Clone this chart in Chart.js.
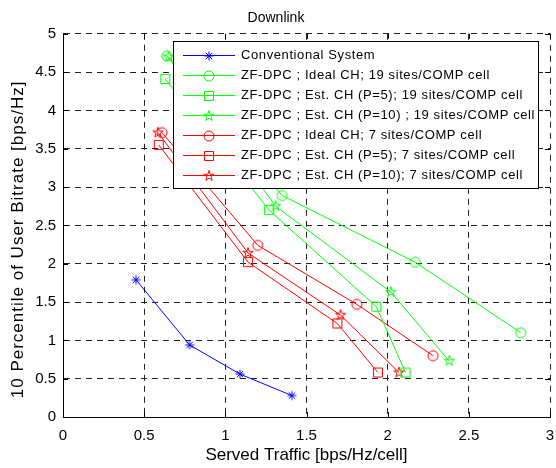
<!DOCTYPE html>
<html>
<head>
<meta charset="utf-8">
<script src="https://cdn.jsdelivr.net/npm/chart.js@4.4.0/dist/chart.umd.min.js"></script>
<style>
  body { margin: 0; background: #fff; }
  canvas { display: block; }
</style>
</head>
<body>
<canvas id="chart" width="556" height="468"></canvas>
<script>
// values
const xTicks = [0, 0.5, 1, 1.5, 2, 2.5, 3];
const yTicks = [0, 0.5, 1, 1.5, 2, 2.5, 3, 3.5, 4, 4.5, 5];

const seriesNames = [
  'Conventional System',
  'ZF-DPC ; Ideal CH; 19 sites/COMP cell',
  'ZF-DPC ; Est. CH (P=5); 19 sites/COMP cell',
  'ZF-DPC ; Est. CH (P=10) ; 19 sites/COMP cell',
  'ZF-DPC ; Ideal CH; 7 sites/COMP cell',
  'ZF-DPC ; Est. CH (P=5); 7 sites/COMP cell',
  'ZF-DPC ; Est. CH (P=10); 7 sites/COMP cell',
];

const convX = [0.45, 0.78, 1.09, 1.41];
const convY = [1.79, 0.94, 0.56, 0.28];

const ideal19X = [0.64, 1.35, 2.17, 2.82];
const ideal19Y = [4.71, 2.89, 2.02, 1.10];

const p5_19X = [0.63, 1.27, 1.93, 2.11];
const p5_19Y = [4.41, 2.70, 1.44, 0.58];

const p10_19X = [0.65, 1.31, 2.02, 2.38];
const p10_19Y = [4.70, 2.75, 1.63, 0.73];

const ideal7X = [0.61, 1.20, 1.81, 2.28];
const ideal7Y = [3.71, 2.24, 1.47, 0.80];

const p5_7X = [0.59, 1.14, 1.69, 1.94];
const p5_7Y = [3.55, 2.02, 1.22, 0.58];

const p10_7X = [0.585, 1.14, 1.71, 2.07];
const p10_7Y = [3.71, 2.14, 1.33, 0.58];

const yTitle = '10 Percentile of User Bitrate [bps/Hz]';

const BLUE = '#0000ff';
const GREEN = '#00ff00';
const RED = '#ff0000';
const FONT = '"Liberation Sans", Arial, sans-serif';

// small canvases used as point markers (matlab style)
function makeMarker(kind, color) {
  const c = document.createElement('canvas');
  c.width = 16;
  c.height = 16;
  const g = c.getContext('2d');
  g.strokeStyle = color;
  g.lineWidth = 1;
  g.beginPath();
  if (kind === 'asterisk') {
    const r = 4.5, d = r * 0.7071;
    g.moveTo(8 - r, 8); g.lineTo(8 + r, 8);
    g.moveTo(8, 8 - r); g.lineTo(8, 8 + r);
    g.moveTo(8 - d, 8 - d); g.lineTo(8 + d, 8 + d);
    g.moveTo(8 - d, 8 + d); g.lineTo(8 + d, 8 - d);
  } else if (kind === 'circle') {
    g.arc(8, 8, 5, 0, Math.PI * 2);
  } else if (kind === 'square') {
    g.rect(3.5, 3.5, 9, 9);
  } else if (kind === 'pentagram') {
    const R = 5.5, r = R * 0.382;
    for (let i = 0; i < 10; i++) {
      const a = -Math.PI / 2 + i * Math.PI / 5;
      const rr = i % 2 === 0 ? R : r;
      const px = 8 + rr * Math.cos(a), py = 8 + rr * Math.sin(a);
      if (i === 0) g.moveTo(px, py); else g.lineTo(px, py);
    }
    g.closePath();
  }
  g.stroke();
  return c;
}

function toPoints(xs, ys) {
  return xs.map((x, i) => ({ x: x, y: ys[i] }));
}

const seriesX = [convX, ideal19X, p5_19X, p10_19X, ideal7X, p5_7X, p10_7X];
const seriesY = [convY, ideal19Y, p5_19Y, p10_19Y, ideal7Y, p5_7Y, p10_7Y];
const seriesColors = [BLUE, GREEN, GREEN, GREEN, RED, RED, RED];
const seriesMarkers = ['asterisk', 'circle', 'square', 'pentagram', 'circle', 'square', 'pentagram'];

const markerImages = seriesMarkers.map((m, i) => makeMarker(m, seriesColors[i]));

const datasets = seriesNames.map((name, i) => ({
  label: name,
  data: toPoints(seriesX[i], seriesY[i]),
  showLine: true,
  borderColor: seriesColors[i],
  backgroundColor: seriesColors[i],
  borderWidth: 1,
  pointStyle: markerImages[i],
  pointRadius: 5,
  tension: 0,
}));

// short inward tick marks on all four sides of the box
const innerTicks = {
  id: 'innerTicks',
  afterDatasetsDraw(chart) {
    const ctx = chart.ctx;
    const a = chart.chartArea;
    const xs = chart.scales.x, ys = chart.scales.y;
    const len = 5;
    ctx.save();
    ctx.strokeStyle = '#000';
    ctx.lineWidth = 1;
    ctx.beginPath();
    xTicks.forEach(v => {
      const px = Math.round(xs.getPixelForValue(v)) + 0.5;
      ctx.moveTo(px, a.bottom); ctx.lineTo(px, a.bottom - len);
      ctx.moveTo(px, a.top); ctx.lineTo(px, a.top + len);
    });
    yTicks.forEach(v => {
      const py = Math.round(ys.getPixelForValue(v)) + 0.5;
      ctx.moveTo(a.left, py); ctx.lineTo(a.left + len, py);
      ctx.moveTo(a.right, py); ctx.lineTo(a.right - len, py);
    });
    ctx.stroke();
    ctx.restore();
  }
};

// y axis title, drawn by hand so it can be letter-spaced like the original
const yTitlePlugin = {
  id: 'yTitlePlugin',
  afterDraw(chart) {
    const ctx = chart.ctx;
    const a = chart.chartArea;
    ctx.save();
    ctx.translate(18, a.top + (a.bottom - a.top) / 2 + 14);
    ctx.rotate(-Math.PI / 2);
    ctx.font = '17px ' + FONT;
    ctx.letterSpacing = '1px';
    ctx.fillStyle = '#000';
    ctx.textAlign = 'center';
    ctx.textBaseline = 'middle';
    ctx.fillText(yTitle, 0, 0);
    ctx.restore();
  }
};

// legend box drawn inside the axes, like the matlab one
const boxLegend = {
  id: 'boxLegend',
  afterDraw(chart) {
    const ctx = chart.ctx;
    const area = chart.chartArea;
    const bx = area.left + 110;
    const by = area.top + 7.5;
    const bw = area.right - 12 - bx;
    const rowH = 20;
    const bh = rowH * seriesNames.length + 7;
    ctx.save();
    ctx.fillStyle = '#fff';
    ctx.fillRect(bx, by, bw, bh);
    ctx.strokeStyle = '#000';
    ctx.lineWidth = 1;
    ctx.strokeRect(Math.round(bx) + 0.5, Math.round(by) + 0.5, Math.round(bw), Math.round(bh));
    ctx.font = '13px ' + FONT;
    ctx.letterSpacing = '0.6px';
    ctx.textBaseline = 'middle';
    ctx.fillStyle = '#000';
    seriesNames.forEach((name, i) => {
      const y = Math.round(by + 14 + i * rowH) + 0.5;
      ctx.strokeStyle = seriesColors[i];
      ctx.beginPath();
      ctx.moveTo(bx + 10, y);
      ctx.lineTo(bx + 62, y);
      ctx.stroke();
      const img = markerImages[i];
      ctx.drawImage(img, Math.round(bx + 36 - img.width / 2), Math.round(y - img.height / 2));
      ctx.fillText(name, bx + 68, y);
    });
    ctx.restore();
  }
};

Chart.defaults.font.family = FONT;
Chart.defaults.color = '#000';

const fmt = (v) => String(v);

new Chart(document.getElementById('chart'), {
  type: 'scatter',
  data: { datasets: datasets },
  plugins: [innerTicks, yTitlePlugin, boxLegend],
  options: {
    responsive: false,
    animation: false,
    events: [],
    layout: { padding: { left: 0, right: 4, top: 0, bottom: 0 } },
    plugins: {
      legend: { display: false },
      tooltip: { enabled: false },
      title: {
        display: true,
        text: 'Downlink',
        color: '#000',
        font: { size: 14, weight: 'normal' },
        padding: { top: 10, bottom: 7 },
      },
    },
    scales: {
      x: {
        type: 'linear',
        min: 0,
        max: 3,
        afterBuildTicks: (s) => { s.ticks = xTicks.map(v => ({ value: v })); },
        afterFit: (s) => { s.height = 51; s.paddingLeft = 0; s.paddingRight = 0; },
        ticks: { color: '#000', font: { size: 15 }, padding: 10, maxRotation: 0, callback: fmt },
        grid: { color: '#222', drawTicks: false, lineWidth: 1 },
        border: { display: true, color: '#000', width: 1, dash: [6, 5] },
        title: {
          display: true,
          text: 'Served Traffic [bps/Hz/cell]',
          color: '#000',
          font: { size: 17 },
          padding: { top: 2, bottom: 2 },
        },
      },
      y: {
        type: 'linear',
        min: 0,
        max: 5,
        afterBuildTicks: (s) => { s.ticks = yTicks.map(v => ({ value: v })); },
        afterFit: (s) => { s.width = 63; s.paddingTop = 0; s.paddingBottom = 0; },
        ticks: { color: '#000', font: { size: 15 }, padding: 7, callback: fmt },
        grid: { color: '#222', drawTicks: false, lineWidth: 1 },
        border: { display: true, color: '#000', width: 1, dash: [6, 5] },
      },
    },
  },
});
</script>
</body>
</html>
